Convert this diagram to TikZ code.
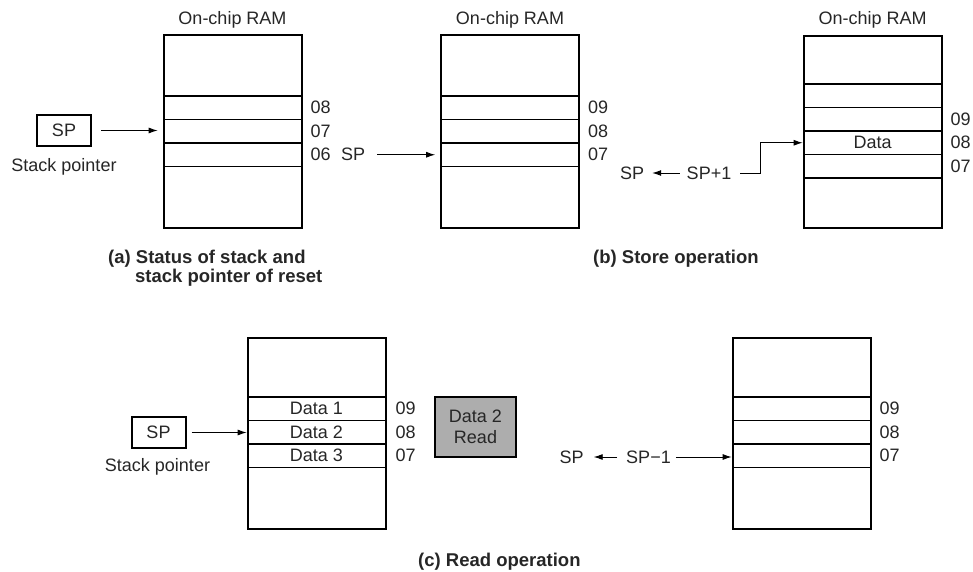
\documentclass[tikz,border=0pt]{standalone}
\usepackage{fontspec}
\setmainfont{Liberation Sans}
\usetikzlibrary{arrows.meta}
\begin{document}
\begin{tikzpicture}[x=1pt,y=-1pt,
  every node/.style={font=\fontsize{18pt}{20pt}\selectfont, inner sep=0pt, text=black!85},
  ram/.style={draw, line width=2pt, minimum width=138pt, minimum height=#1},
  cell/.style={draw, line width=1.7pt, minimum width=138pt, minimum height=23.5pt},
  lbl/.style={anchor=west},
  arr/.style={-{Latex[length=9pt,width=6pt]}, line width=0.9pt},
  spbox/.style={draw, line width=2pt, minimum width=54pt, minimum height=31pt},
  captxt/.style={anchor=west, font=\bfseries\fontsize{18.5pt}{20pt}\selectfont},
  readbox/.style={draw, line width=2.3pt, fill=black!32, minimum width=81pt, minimum height=60pt, align=center, font=\fontsize{18pt}{21pt}\selectfont}
]
\useasboundingbox (0,0) rectangle (973,572);

% ---------- (a) ----------
\node (t1) at (232.5,20) {On-chip RAM};
\node[ram=193pt] (b1) at (232.5,131.5) {};
\node[cell] (r11) at (232.5,107.75) {};
\node[cell] (r12) at (232.5,131.25) {};
\node[cell] (r13) at (232.5,154.75) {};
\node[lbl] (l11) at ([xshift=8pt]r11.east) {08};
\node[lbl] (l12) at ([xshift=8pt]r12.east) {07};
\node[lbl] (l13) at ([xshift=8pt]r13.east) {06};
\node[spbox] (spa) at (64,130.5) {SP};
\node (spat) at (64,167) {Stack pointer};
\draw[arr, shorten <=9pt, shorten >=5pt] (spa.east) -- (spa.east -| r12.west);
\node[captxt] (capa1) at (108,259) {(a) Status of stack and};
\node[captxt] (capa2) at (135,278) {stack pointer of reset};

% ---------- (b) first box ----------
\node (t2) at (510,20) {On-chip RAM};
\node[ram=193pt] (b2) at (510,131.5) {};
\node[cell] (r21) at (510,107.75) {};
\node[cell] (r22) at (510,131.25) {};
\node[cell] (r23) at (510,154.75) {};
\node[lbl] (l21) at ([xshift=8pt]r21.east) {09};
\node[lbl] (l22) at ([xshift=8pt]r22.east) {08};
\node[lbl] (l23) at ([xshift=8pt]r23.east) {07};
\node[lbl] (spb) at (341,154.75) {SP};
\draw[arr, shorten <=12pt, shorten >=5pt] (spb.east) -- (r23.west);

% ---------- (b) second box ----------
\node (t3) at (872.5,20) {On-chip RAM};
\node[ram=192pt] (b3) at (872.5,132) {};
\node[cell] (r31) at (872.5,95.75) {};
\node[cell] (r32) at (872.5,119.25) {};
\node[cell] (r33) at (872.5,142.75) {Data};
\node[cell] (r34) at (872.5,166.25) {};
\node[lbl] (l32) at ([xshift=8pt]r32.east) {09};
\node[lbl] (l33) at ([xshift=8pt]r33.east) {08};
\node[lbl] (l34) at ([xshift=8pt]r34.east) {07};
\node (spc) at (632,173) {SP};
\node (spplus) at (709,173) {SP+1};
\draw[arr, shorten <=7pt, shorten >=8pt] (spplus.west) -- (spc.east);
\coordinate (elb) at (760,173);
\draw[arr, shorten <=9pt] (spplus.east) -- (elb) |- (r33.west);
\node[captxt] (capb) at (593,259) {(b) Store operation};

% ---------- (c) first box ----------
\node[ram=191pt] (b4) at (316.5,433.5) {};
\node[cell] (r41) at (316.5,408.75) {Data 1};
\node[cell] (r42) at (316.5,432.25) {Data 2};
\node[cell] (r43) at (316.5,455.75) {Data 3};
\node[lbl] (l41) at ([xshift=9pt]r41.east) {09};
\node[lbl] (l42) at ([xshift=9pt]r42.east) {08};
\node[lbl] (l43) at ([xshift=9pt]r43.east) {07};
\node[spbox] (spd) at (158.5,432.5) {SP};
\node (spdt) at (157.5,467) {Stack pointer};
\draw[arr, shorten <=5pt] (spd.east) -- (spd.east -| r42.west);
\node[readbox] (rd) at (475.5,427) {Data 2\\Read};

% ---------- (c) second box ----------
\node[ram=191pt] (b5) at (801.5,433.5) {};
\node[cell] (r51) at (801.5,408.75) {};
\node[cell] (r52) at (801.5,432.25) {};
\node[cell] (r53) at (801.5,455.75) {};
\node[lbl] (l51) at ([xshift=8pt]r51.east) {09};
\node[lbl] (l52) at ([xshift=8pt]r52.east) {08};
\node[lbl] (l53) at ([xshift=8pt]r53.east) {07};
\node (spe) at (571.5,457) {SP};
\node (spminus) at (648.5,457) {SP−1};
\draw[arr, shorten <=9pt, shorten >=10pt] (spminus.west) -- (spe.east);
\draw[arr, shorten <=5pt] (spminus.east) -- (spminus.east -| r53.west);
\node[captxt] (capc) at (418,562) {(c) Read operation};
\end{tikzpicture}
\end{document}
